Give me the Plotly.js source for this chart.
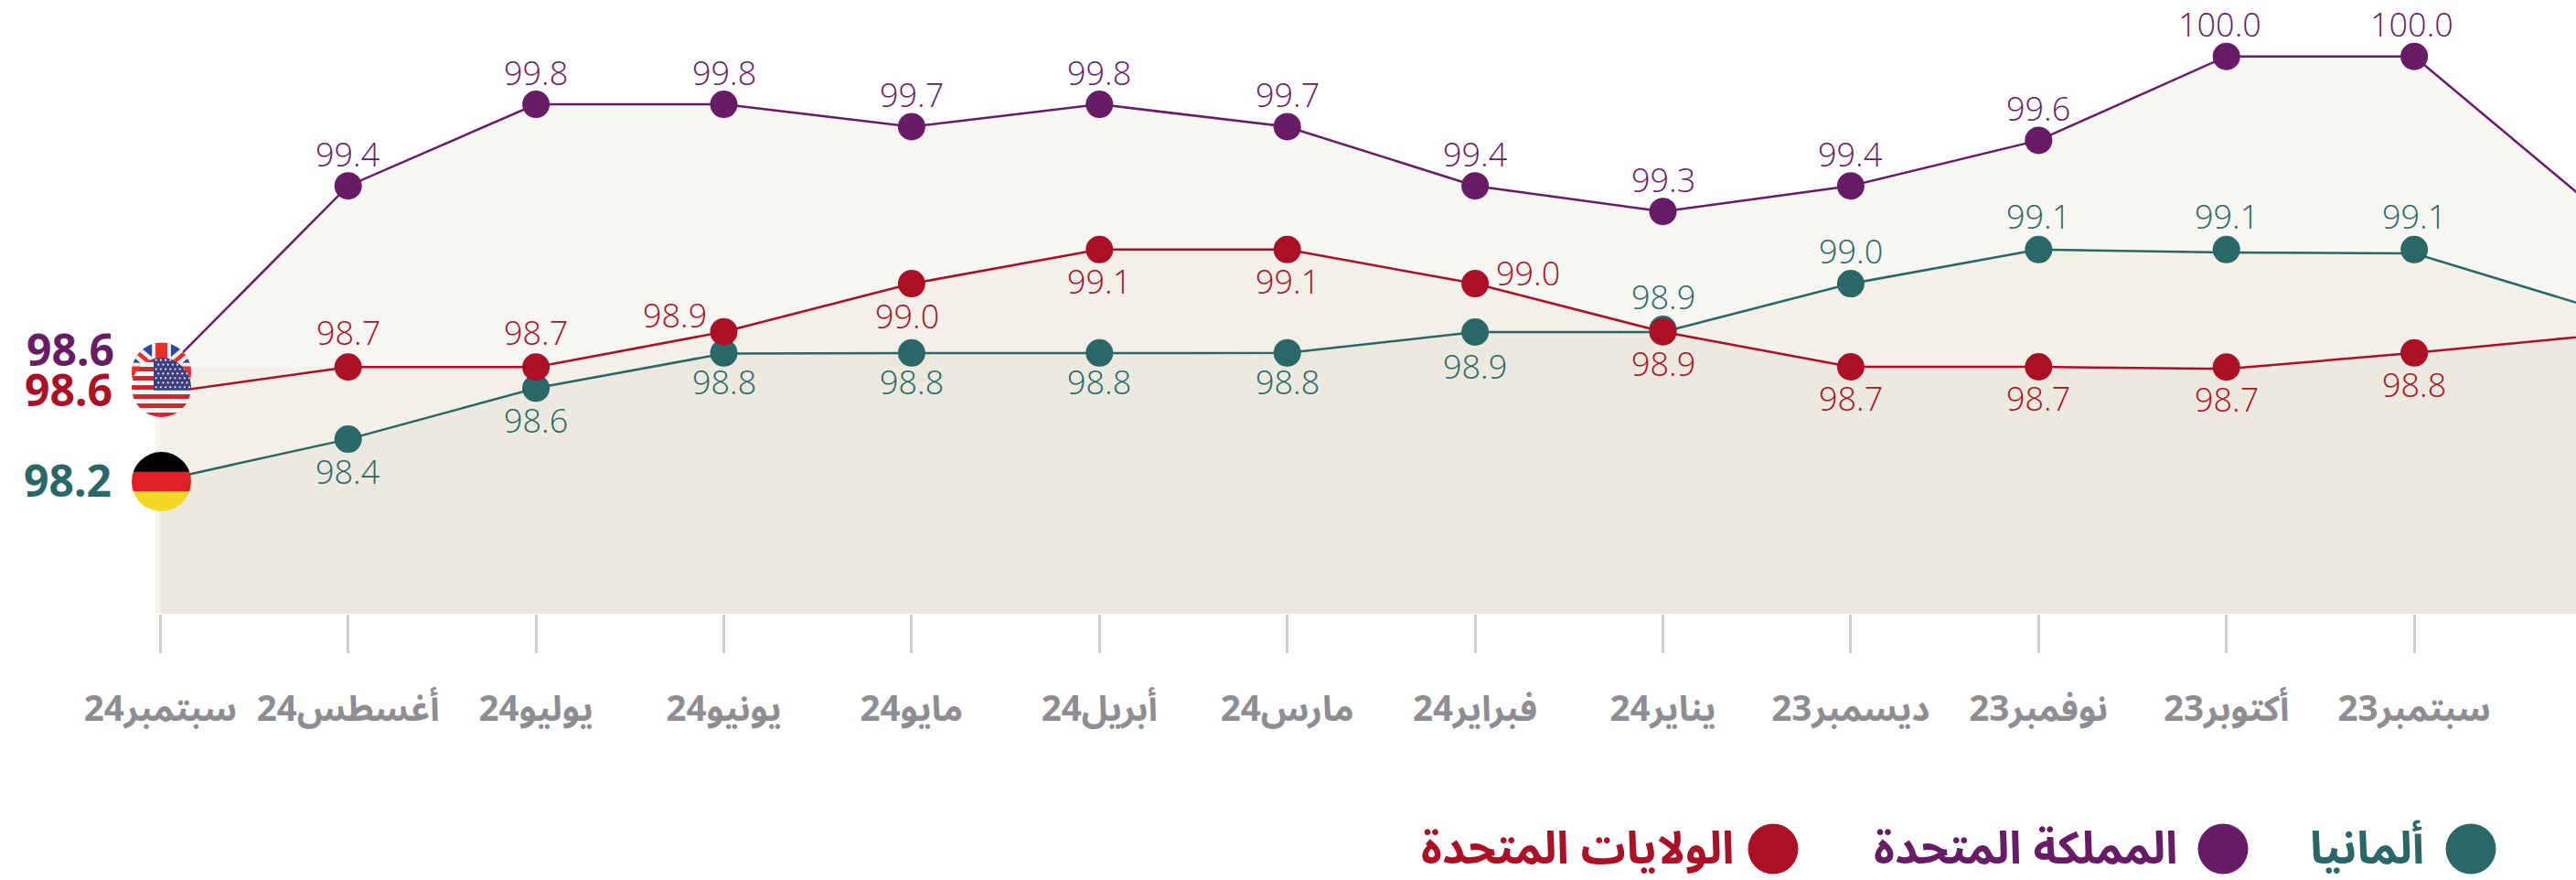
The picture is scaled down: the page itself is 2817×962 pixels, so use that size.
<!DOCTYPE html>
<html><head><meta charset="utf-8">
<script src="https://cdn.plot.ly/plotly-3.0.1.min.js"></script>
<style>html,body{margin:0;padding:0;background:#fff}#c{width:2817px;height:962px}</style>
</head><body><div id="c"></div>
<script>
const months = ["سبتمبر24","أغسطس24","يوليو24","يونيو24","مايو24","أبريل24","مارس24","فبراير24","يناير24","ديسمبر23","نوفمبر23","أكتوبر23","سبتمبر23","أغسطس23"];

const ukValues = [98.67,99.46,99.80,99.80,99.707,99.80,99.707,99.46,99.353,99.46,99.65,100,100,99.344];
const usDots   = [98.594,98.704,98.704,98.851,99.052,99.194,99.194,99.052,98.851,98.705,98.705,98.704,98.763,98.839];
const usLine   = [98.594,98.704,98.704,98.851,99.052,99.194,99.194,99.052,98.851,98.705,98.705,98.696,98.763,98.839];
const usArea   = [98.705,98.704,98.704,98.851,99.052,99.194,99.194,99.052,98.851,98.705,98.705,98.696,98.763,98.839];
const deDots   = [98.23,98.403,98.616,98.763,98.763,98.763,98.763,98.85,98.861,99.052,99.194,99.194,99.194,98.94];
const deLine   = [98.23,98.403,98.616,98.76,98.762,98.762,98.763,98.85,98.85,99.052,99.194,99.182,99.178,98.94];

const ukLabels = ["","99.4","99.8","99.8","99.7","99.8","99.7","99.4","99.3","99.4","99.6","100.0","100.0",""];
const usLabels = ["","98.7","98.7","98.9","99.0","99.1","99.1","99.0","98.9","98.7","98.7","98.7","98.8",""];
const deLabels = ["","98.4","98.6","98.8","98.8","98.8","98.8","98.9","98.9","99.0","99.1","99.1","99.1",""];

const names = ["ألمانيا","المملكة المتحدة","الولايات المتحدة"];
const startLabels = ["98.6","98.6","98.2"];

const GREEN="#2a6868", PURPLE="#681c66", RED="#ab1026", GREY="#8d8d92";
const ARABIC="'Noto Sans Arabic','Noto Naskh Arabic','DejaVu Sans',sans-serif";
const LATIN="'Noto Sans','Open Sans',sans-serif";
const VALUE_FONT="'Open Sans','Noto Sans',sans-serif";
const W=2817,H=962,PH=671;
const overlay="rgba(145,124,48,0.05)";

function area(y,color){return {x:months,y,type:"scatter",mode:"none",fill:"tozeroy",fillcolor:color,hoverinfo:"skip",showlegend:false};}
function line(y,color){return {x:months,y,type:"scatter",mode:"lines",line:{color,width:2.5},hoverinfo:"skip",showlegend:false};}
function dots(y,color){return {x:months,y,type:"scatter",mode:"markers",marker:{color,size:30},hoverinfo:"skip",showlegend:false,cliponaxis:false};}

const data=[
 area(ukValues,"#f8f7f3"),area(usArea,overlay),area(deLine,overlay),
 line(deLine,GREEN),line(ukValues,PURPLE),line(usLine,RED),
 dots(deDots,GREEN),dots(ukValues,PURPLE),dots(usDots,RED)
];

function svgUrl(s){return "data:image/svg+xml;charset=utf-8,"+encodeURIComponent(s);}
const clip='<defs><clipPath id="k"><circle cx="50" cy="50" r="50"/></clipPath></defs>';
function wrap(b){return '<svg xmlns="http://www.w3.org/2000/svg" width="100" height="100" viewBox="0 0 100 100">'+clip+'<g clip-path="url(#k)">'+b+'</g></svg>';}
const de=wrap('<rect width="100" height="34" fill="#000"/><rect y="33.3" width="100" height="34" fill="#df2027"/><rect y="66.6" width="100" height="34" fill="#f3d825"/>');
const uk=wrap('<rect width="100" height="100" fill="#2b4a9b"/><path d="M-5,5 L105,95 M105,5 L-5,95" stroke="#f5f2f2" stroke-width="20"/><path d="M-5,5 L105,95 M105,5 L-5,95" stroke="#ee2d2d" stroke-width="7"/><rect x="34" width="32" height="100" fill="#f5f2f2"/><rect y="34" width="100" height="32" fill="#f5f2f2"/><rect x="40" width="20" height="100" fill="#ee2d2d"/><rect y="40" width="100" height="20" fill="#ee2d2d"/>');
let stripes='<rect width="100" height="100" fill="#f4f4f6"/>';
for(let i=0;i<7;i++)stripes+='<rect y="'+(i*15.4)+'" width="100" height="7.7" fill="#d8212f"/>';
let stars='<rect x="37" width="63" height="55" fill="#3d3f7f"/>';
for(let r=0;r<7;r++)for(let c=0;c<8;c++)stars+='<circle cx="'+(41+c*8+(r%2?4:0))+'" cy="'+(4+r*7.6)+'" r="1.7" fill="#f2f2f6"/>';
const us=wrap(stripes+stars);

function flag(src,cy){const d=65;return {source:svgUrl(src),xref:"paper",yref:"paper",x:144/W,y:1-(cy-d/2)/PH,sizex:d/W,sizey:d/PH,sizing:"stretch",xanchor:"left",yanchor:"top",layer:"above"};}

function px(x){return x/W;} function py(y){return 1-y/PH;}
function note(x,y,text,color,font,size,weight){return {xref:"paper",yref:"paper",x:px(x),y:py(y),xanchor:"right",yanchor:"middle",showarrow:false,text,
  font:{family:font,size,color,weight}};}
function circle(cx,cy,color){const r=27.5;return {type:"circle",xref:"paper",yref:"paper",x0:px(cx-r),x1:px(cx+r),y0:py(cy+r),y1:py(cy-r),fillcolor:color,line:{width:0}};}

// value labels, attached to their points
function labels(values,text,color,shift){
  return text.map((t,i)=>{ if(!t) return null; const s=shift(i);
    return {xref:"x",yref:"y",x:months[i],y:values[i],text:t,showarrow:false,xanchor:"center",yanchor:"middle",xshift:s[0],yshift:-s[1],
      font:{family:VALUE_FONT,size:36,color,weight:300}};}).filter(Boolean);
}
const ukShift=i=>[i==11?-7:(i==12?-3:0),-35];
const usShift=i=>i==3?[-54,-18]:i==7?[58,-12]:i<3?[0,-38]:[i==4?-5:0,35];
const deShift=i=>i>=8?[0,-36]:[0,i==7?37:i>=3?32:35];

const layout={
 width:W,height:H,margin:{l:0,r:0,t:0,b:H-PH},paper_bgcolor:"#fff",plot_bgcolor:"rgba(0,0,0,0)",showlegend:false,
 xaxis:{type:"category",categoryorder:"array",categoryarray:months,range:[-0.8535,12.8612],showgrid:false,zeroline:false,showline:false,
   ticks:"outside",ticklen:42,tickwidth:3,tickcolor:"#cfcfcf",ticklabelstandoff:28,automargin:false,tickangle:0,
   tickfont:{family:ARABIC,size:38.5,color:GREY,weight:700}},
 yaxis:{range:[97.6744,100.2355],visible:false,showgrid:false,zeroline:false},
 images:[flag(uk,407),flag(us,423.5),flag(de,526.5)],
 annotations:[
  note(127,381,startLabels[0],PURPLE,LATIN,48,700),
  note(125,425,startLabels[1],RED,LATIN,48,700),
  note(124,524,startLabels[2],GREEN,LATIN,48,700),
  note(2653,928,names[0],GREEN,ARABIC,49,700),
  note(2383,928,names[1],PURPLE,ARABIC,49,700),
  note(1898,928,names[2],RED,ARABIC,49,700)
 ].concat(labels(ukValues,ukLabels,PURPLE,ukShift),labels(usDots,usLabels,RED,usShift),labels(deDots,deLabels,GREEN,deShift)),
 shapes:[
  circle(2702,928,GREEN),circle(2431,928,PURPLE),circle(1939,928,RED),
  {type:"rect",xref:"paper",yref:"paper",x0:px(170),x1:px(175),y0:0,y1:py(401),fillcolor:"#f6f4ef",line:{width:0},layer:"below"}
 ]
};
Plotly.newPlot("c",data,layout,{displayModeBar:false,staticPlot:true});
</script></body></html>
